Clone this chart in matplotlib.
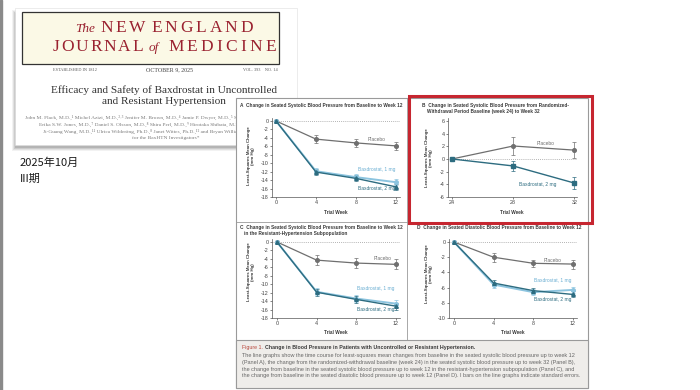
import matplotlib
matplotlib.use('Agg')
from matplotlib import pyplot as plt
from matplotlib.patches import Rectangle

plt.rcParams['font.family'] = ['Liberation Sans', 'DejaVu Sans']
plt.rcParams['axes.unicode_minus'] = False

# values
weeks = [0, 4, 8, 12]
a_placebo = [0, -4.3, -5.2, -5.9]
a_placebo_se = [0, 1.0, 0.9, 0.9]
a_bax1 = [0, -11.9, -13.3, -14.5]
a_bax1_se = [0, 0.7, 0.7, 0.7]
a_bax2 = [0, -12.1, -13.6, -15.6]
a_bax2_se = [0, 0.7, 0.7, 0.7]

b_weeks = [24, 28, 32]
b_placebo = [0, 2.05, 1.4]
b_placebo_se = [0, 1.4, 1.3]
b_bax2 = [0, -1.1, -3.8]
b_bax2_se = [0, 0.8, 0.9]

c_placebo = [0, -4.3, -5.0, -5.3]
c_placebo_se = [0, 1.1, 1.1, 1.2]
c_bax1 = [0, -11.8, -13.4, -14.6]
c_bax1_se = [0, 0.8, 0.8, 0.8]
c_bax2 = [0, -11.9, -13.6, -15.2]
c_bax2_se = [0, 0.8, 0.8, 0.8]

d_placebo = [0, -2.0, -2.8, -2.9]
d_placebo_se = [0, 0.6, 0.5, 0.6]
d_bax1 = [0, -5.6, -6.6, -6.3]
d_bax1_se = [0, 0.4, 0.4, 0.4]
d_bax2 = [0, -5.4, -6.4, -6.9]
d_bax2_se = [0, 0.4, 0.4, 0.4]

a_yticks = list(range(-18, 1, 2))
b_yticks = list(range(-6, 7, 2))
d_yticks = list(range(-10, 1, 2))

panel_titles = ['A  Change in Seated Systolic Blood Pressure from Baseline to Week 12',
                'B  Change in Seated Systolic Blood Pressure from Randomized-',
                'Withdrawal Period Baseline (week 24) to Week 32',
                'C  Change in Seated Systolic Blood Pressure from Baseline to Week 12',
                'in the Resistant-Hypertension Subpopulation',
                'D  Change in Seated Diastolic Blood Pressure from Baseline to Week 12']

caption_lines = [
    'The line graphs show the time course for least-squares mean changes from baseline in the seated systolic blood pressure up to week 12',
    '(Panel A), the change from the randomized-withdrawal baseline (week 24) in the seated systolic blood pressure up to week 32 (Panel B),',
    'the change from baseline in the seated systolic blood pressure up to week 12 in the resistant-hypertension subpopulation (Panel C), and',
    'the change from baseline in the seated diastolic blood pressure up to week 12 (Panel D). I bars on the line graphs indicate standard errors.']

authors = ['John M. Flack, M.D.,\u00b9 Michel Azizi, M.D.,\u00b2\u02d2\u00b3 Jenifer M. Brown, M.D.,\u2074 Jamie P. Dwyer, M.D.,\u2075 Sverre E. Kjeldsen, M.D.,\u2076',
           'Erika S.W. Jones, M.D.,\u2077 Daniel S. Olsson, M.D.,\u2078 Shira Perl, M.D.,\u2079 Hirotaka Shibata, M.D.,\u00b9\u2070',
           'Ji-Guang Wang, M.D.,\u00b9\u00b9 Ulrica Wilder\u00e4ng, Ph.D.,\u2078 Janet Wittes, Ph.D.,\u00b9\u00b2 and Bryan Williams, M.D.,\u00b9\u00b3',
           'for the BaxHTN Investigators*']

GREY = '#6f6f6f'
LIGHT = '#8cc4df'
DARK = '#2d6c80'
RED = '#c62630'

fig = plt.figure(figsize=(7, 3.9), dpi=100)
fig.patch.set_facecolor('white')

# background layer in pixel coordinates
bg = fig.add_axes([0, 0, 1, 1])
bg.set_xlim(0, 700)
bg.set_ylim(390, 0)
bg.axis('off')
renderer = fig.canvas.get_renderer()


def text_width(s, **kw):
    t = bg.text(0, 0, s, **kw)
    w = t.get_window_extent(renderer).width
    t.remove()
    return w


def spaced(x0, x1, y, s, **kw):
    # spread the letters of s evenly between x0 and x1
    widths = [text_width(c, **kw) if c != ' ' else 0 for c in s]
    gap = (x1 - x0 - sum(widths)) / (len(s) - 1)
    x = x0
    for c, w in zip(s, widths):
        if c != ' ':
            bg.text(x, y, c, ha='left', va='center', **kw)
        x += w + gap


# left edge of the slide
bg.add_patch(Rectangle((0, 0), 2, 390, color='#8a8a8a', zorder=1))

# journal card with a soft shadow
for i, a in enumerate([0.05, 0.07, 0.09, 0.11]):
    bg.add_patch(Rectangle((15 - 3 + i, 9 + 1 + i), 280, 141 - i * 2, color='black', alpha=a, lw=0, zorder=1))
bg.add_patch(Rectangle((15, 8), 282, 137, facecolor='white', edgecolor='#dddddd', lw=0.4, zorder=2))
bg.add_patch(Rectangle((22, 12), 257, 52, facecolor='#fbf9e6', edgecolor='#333333', lw=0.9, zorder=2))
serif = ['Liberation Serif', 'DejaVu Serif']
bg.text(75, 29, 'The', family=serif, style='italic', fontsize=9.5, color='#9a2230', va='center', zorder=3)
spaced(100, 253, 28, 'NEW ENGLAND', family=serif, fontsize=12.5, color='#9a2230', zorder=3)
spaced(53, 143, 47, 'JOURNAL', family=serif, fontsize=12.5, color='#9a2230', zorder=3)
bg.text(149, 48, 'of', family=serif, style='italic', fontsize=9.5, color='#9a2230', va='center', zorder=3)
spaced(168, 276, 47, 'MEDICINE', family=serif, fontsize=12.5, color='#9a2230', zorder=3)
bg.text(53, 70, 'ESTABLISHED IN 1812', family=serif, fontsize=3.1, color='#555555', va='center', zorder=3)
bg.text(169, 70, 'OCTOBER 9, 2025', family=serif, fontsize=4.3, color='#444444', va='center', ha='center', zorder=3)
bg.text(278, 70, 'VOL. 393    NO. 14', family=serif, fontsize=3.1, color='#555555', va='center', ha='right', zorder=3)
bg.text(164, 90, 'Efficacy and Safety of Baxdrostat in Uncontrolled', family=serif, fontsize=8.1,
        color='#333333', ha='center', va='center', zorder=3)
bg.text(164, 102, 'and Resistant Hypertension', family=serif, fontsize=8.1,
        color='#333333', ha='center', va='center', zorder=3)
for y, x, line in zip([117, 124, 131], [25, 39, 43], authors[:3]):
    bg.text(x, y, line, family=serif, fontsize=3.9, color='#7a7a7a', va='center', zorder=3)
bg.text(166, 138, authors[3], family=serif, fontsize=3.9, color='#7a7a7a', va='center', ha='center', zorder=3)

# Japanese note
jp = ['Noto Sans CJK JP', 'DejaVu Sans']
bg.text(20, 163, '2025年10月', family=jp, fontsize=8, color='#1a1a1a', va='center', zorder=3)
bg.text(20, 179, 'III期', family=jp, fontsize=8, color='#1a1a1a', va='center', zorder=3)

# figure frame, dividers and caption box
bg.add_patch(Rectangle((236, 98), 352, 290, facecolor='white', edgecolor='#9a9a9a', lw=0.8, zorder=4))
bg.plot([407, 407], [98, 340], color='#9a9a9a', lw=0.6, zorder=5)
bg.plot([236, 588], [222, 222], color='#9a9a9a', lw=0.6, zorder=5)
bg.add_patch(Rectangle((236, 340), 352, 48, facecolor='#efedea', edgecolor='#9a9a9a', lw=0.8, zorder=5))

title_kw = dict(fontsize=3.45, fontweight='bold', color='#3a3a3a', va='center', zorder=6)
bg.text(240, 105, panel_titles[0], **title_kw)
bg.text(422, 106, panel_titles[1], **title_kw)
bg.text(427, 112, panel_titles[2], **title_kw)
bg.text(240, 227, panel_titles[3], **title_kw)
bg.text(244, 234, panel_titles[4], **title_kw)
bg.text(417, 227, panel_titles[5], **title_kw)

ylab_kw = dict(fontsize=3.2, fontweight='bold', color='#3a3a3a', rotation=90, ha='center', va='center',
               multialignment='center', zorder=6)
ylab = 'Least-Squares Mean Change\n(mm Hg)'
bg.text(251, 156, ylab, **ylab_kw)
bg.text(429, 158, ylab, **ylab_kw)
bg.text(251, 272, ylab, **ylab_kw)
bg.text(429, 274, ylab, **ylab_kw)

xlab_kw = dict(fontsize=3.4, fontweight='bold', color='#3a3a3a', ha='center', va='center', zorder=6)
bg.text(336, 212, 'Trial Week', **xlab_kw)
bg.text(512, 212, 'Trial Week', **xlab_kw)
bg.text(336, 332, 'Trial Week', **xlab_kw)
bg.text(513, 332, 'Trial Week', **xlab_kw)

# caption
t = bg.text(242, 348, 'Figure 1.', fontsize=3.8, color='#b8473c', va='center', zorder=6)
w = t.get_window_extent(renderer).width
bg.text(242 + w + 2, 348, 'Change in Blood Pressure in Patients with Uncontrolled or Resistant Hypertension.',
        fontsize=3.8, fontweight='bold', color='#3a3a3a', va='center', zorder=6)
for y, line in zip([356, 362.7, 369.3, 376], caption_lines):
    bg.text(242, y, line, fontsize=3.95, color='#666666', va='center', zorder=6)


def panel(box, xlim, ylim, xticks, yticks):
    x0, y0, x1, y1 = box
    ax = fig.add_axes([x0 / 700, 1 - y1 / 390, (x1 - x0) / 700, (y1 - y0) / 390])
    ax.set_facecolor('none')
    ax.set_xlim(*xlim)
    ax.set_ylim(*ylim)
    ax.set_xticks(xticks)
    ax.set_yticks(yticks)
    for side in ['top', 'right']:
        ax.spines[side].set_visible(False)
    for side in ['left', 'bottom']:
        ax.spines[side].set_linewidth(0.5)
        ax.spines[side].set_color('#555555')
    ax.tick_params(length=1.5, width=0.5, labelsize=3.9, pad=1, colors='#555555', labelcolor='#444444')
    ax.axhline(0, color='#9a9a9a', lw=0.6, ls=(0, (1, 1.5)), zorder=1)
    return ax


def series(ax, x, y, se, color, marker, lw):
    ax.errorbar(x, y, yerr=se, color=color, lw=lw, marker=marker, ms=2.6, mec=color,
                elinewidth=0.5, capsize=1.3, capthick=0.5, zorder=3)


lab_kw = dict(fontsize=3.5, ha='center', va='center')

ax = panel((272, 118, 400, 197), (-0.4, 12.4), (-18, 0.7), weeks, a_yticks)
series(ax, weeks, a_placebo, a_placebo_se, GREY, 'o', 0.9)
series(ax, weeks, a_bax1, a_bax1_se, LIGHT, 'o', 1.4)
series(ax, weeks, a_bax2, a_bax2_se, DARK, '^', 1.0)
ax.text(10.1, -4.3, 'Placebo', color=GREY, **lab_kw)
ax.text(10.1, -11.4, 'Baxdrostat, 1 mg', color='#6aaed2', **lab_kw)
ax.text(10.1, -16.1, 'Baxdrostat, 2 mg', color=DARK, **lab_kw)

ax = panel((448, 118, 577, 197), (23.74, 32.17), (-6, 6.47), b_weeks, b_yticks)
series(ax, b_weeks, b_placebo, b_placebo_se, GREY, 'o', 0.9)
series(ax, b_weeks, b_bax2, b_bax2_se, DARK, 's', 1.0)
ax.text(30.1, 2.5, 'Placebo', color=GREY, **lab_kw)
ax.text(29.6, -3.95, 'Baxdrostat, 2 mg', color=DARK, **lab_kw)

ax = panel((272, 239, 400, 318), (-0.5, 12.4), (-18, 0.7), weeks, a_yticks)
series(ax, weeks, c_placebo, c_placebo_se, GREY, 'o', 0.9)
series(ax, weeks, c_bax1, c_bax1_se, LIGHT, 'o', 1.4)
series(ax, weeks, c_bax2, c_bax2_se, DARK, '^', 1.0)
ax.text(10.6, -4.0, 'Placebo', color=GREY, **lab_kw)
ax.text(9.9, -11.1, 'Baxdrostat, 1 mg', color='#6aaed2', **lab_kw)
ax.text(9.9, -16.1, 'Baxdrostat, 2 mg', color=DARK, **lab_kw)

ax = panel((449, 239, 577, 318), (-0.5, 12.4), (-10, 0.4), weeks, d_yticks)
series(ax, weeks, d_placebo, d_placebo_se, GREY, 'o', 0.9)
series(ax, weeks, d_bax1, d_bax1_se, LIGHT, 'o', 1.4)
series(ax, weeks, d_bax2, d_bax2_se, DARK, '^', 1.0)
ax.text(9.9, -2.4, 'Placebo', color=GREY, **lab_kw)
ax.text(10.0, -5.1, 'Baxdrostat, 1 mg', color='#6aaed2', **lab_kw)
ax.text(10.0, -7.6, 'Baxdrostat, 2 mg', color=DARK, **lab_kw)

# red highlight round panel B
top = fig.add_axes([0, 0, 1, 1])
top.set_xlim(0, 700)
top.set_ylim(390, 0)
top.axis('off')
top.add_patch(Rectangle((409, 96), 183, 127, fill=False, edgecolor=RED, lw=2.2))

fig.savefig('out.png', dpi=100)
